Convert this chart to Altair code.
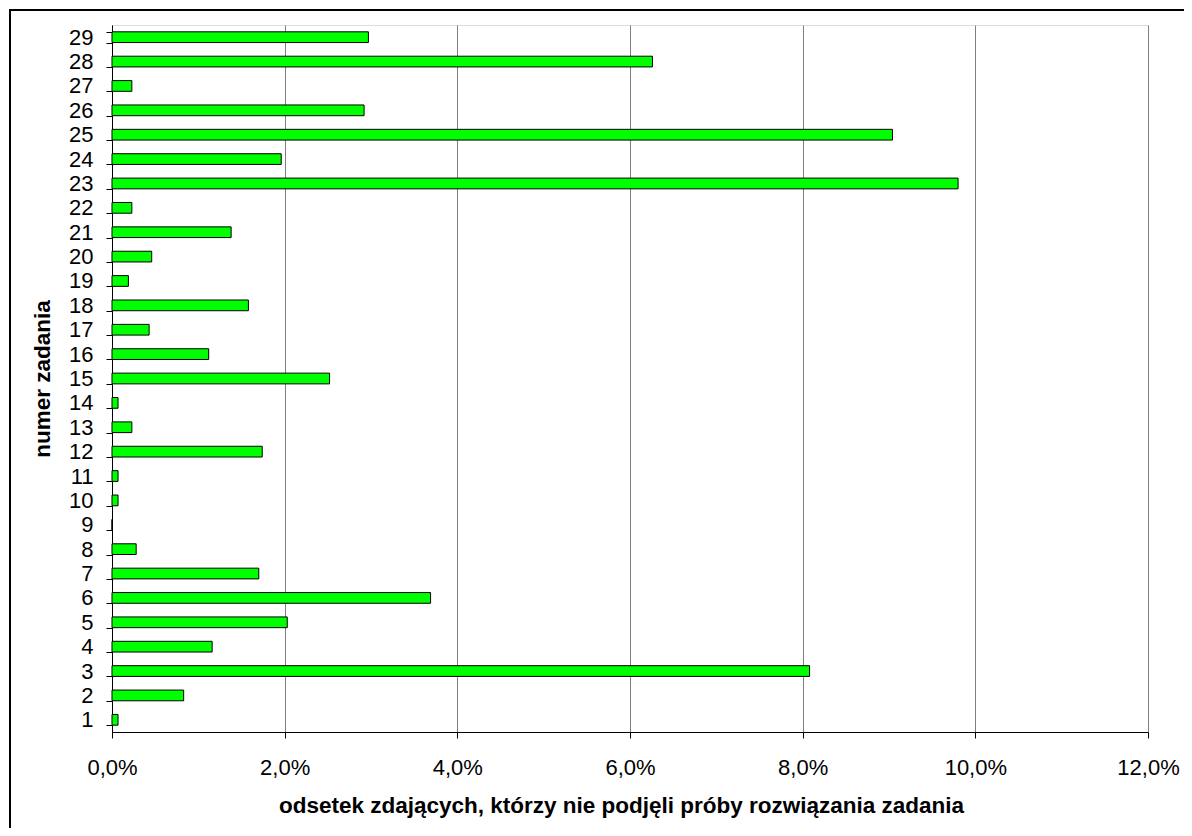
import altair as alt
import pandas as pd

tasks = [str(i) for i in range(1, 30)]
values = [0.07, 0.83, 8.08, 1.16, 2.03, 3.69, 1.70, 0.28, 0.0, 0.07,
          0.07, 1.74, 0.23, 0.07, 2.52, 1.12, 0.43, 1.58, 0.19, 0.46,
          1.38, 0.23, 9.80, 1.96, 9.04, 2.92, 0.23, 6.26, 2.97]

df = pd.DataFrame({"zadanie": tasks, "odsetek": [v / 100 for v in values]})
order = [str(i) for i in range(29, 0, -1)]

FONT = "Liberation Sans"
W, H = 1036, 707

bars = alt.Chart(df).mark_bar(
    color="#00FF00", stroke="black", strokeWidth=1
).encode(
    x=alt.X("odsetek:Q",
            scale=alt.Scale(domain=[0, 0.12], nice=False, zero=True),
            axis=alt.Axis(
                values=[0, 0.02, 0.04, 0.06, 0.08, 0.10, 0.12],
                labelExpr="replace(format(datum.value, '.1%'), '.', ',')",
                title="odsetek zdających, którzy nie podjęli próby rozwiązania zadania",
                titleFont=FONT, titleFontSize=22.5, titleFontWeight="bold",
                titleColor="black",
                titleX=509, titleY=73, titleAnchor="start", titleAlign="center",
                titleBaseline="middle",
                labelFont=FONT, labelFontSize=22, labelColor="black",
                labelPadding=19, tickSize=6, tickColor="black",
                domainColor="black", grid=True, gridColor="#808080",
                gridWidth=1, labelFlush=False,
            )),
    y=alt.Y("zadanie:N", sort=order,
            scale=alt.Scale(paddingInner=0.56, paddingOuter=0.28),
            axis=alt.Axis(
                title="numer zadania",
                titleFont=FONT, titleFontSize=22.5, titleFontWeight="bold",
                titleColor="black", titleAngle=-90,
                titleX=-70, titleY=H / 2, titleAlign="center",
                titleBaseline="middle",
                labelFont=FONT, labelFontSize=22, labelColor="black",
                labelPadding=13, tickSize=6, tickColor="black",
                tickBand="extent", domainColor="black", grid=False,
            )),
)

frame = alt.Chart(pd.DataFrame({"a": [0]})).mark_rect(
    fill=None, stroke="black", strokeWidth=2, clip=False
).encode(
    x=alt.value(-102), x2=alt.value(1200),
    y=alt.value(-15), y2=alt.value(900),
)

chart = alt.layer(bars, frame).properties(
    width=W, height=H,
    autosize=alt.AutoSizeParams(type="none"),
    padding={"left": 104, "top": 17, "right": 36, "bottom": 96},
).configure_view(
    stroke="#808080", strokeWidth=1
).configure(background="white")

chart.save("out.html", embed_options={"renderer": "svg", "actions": False})
